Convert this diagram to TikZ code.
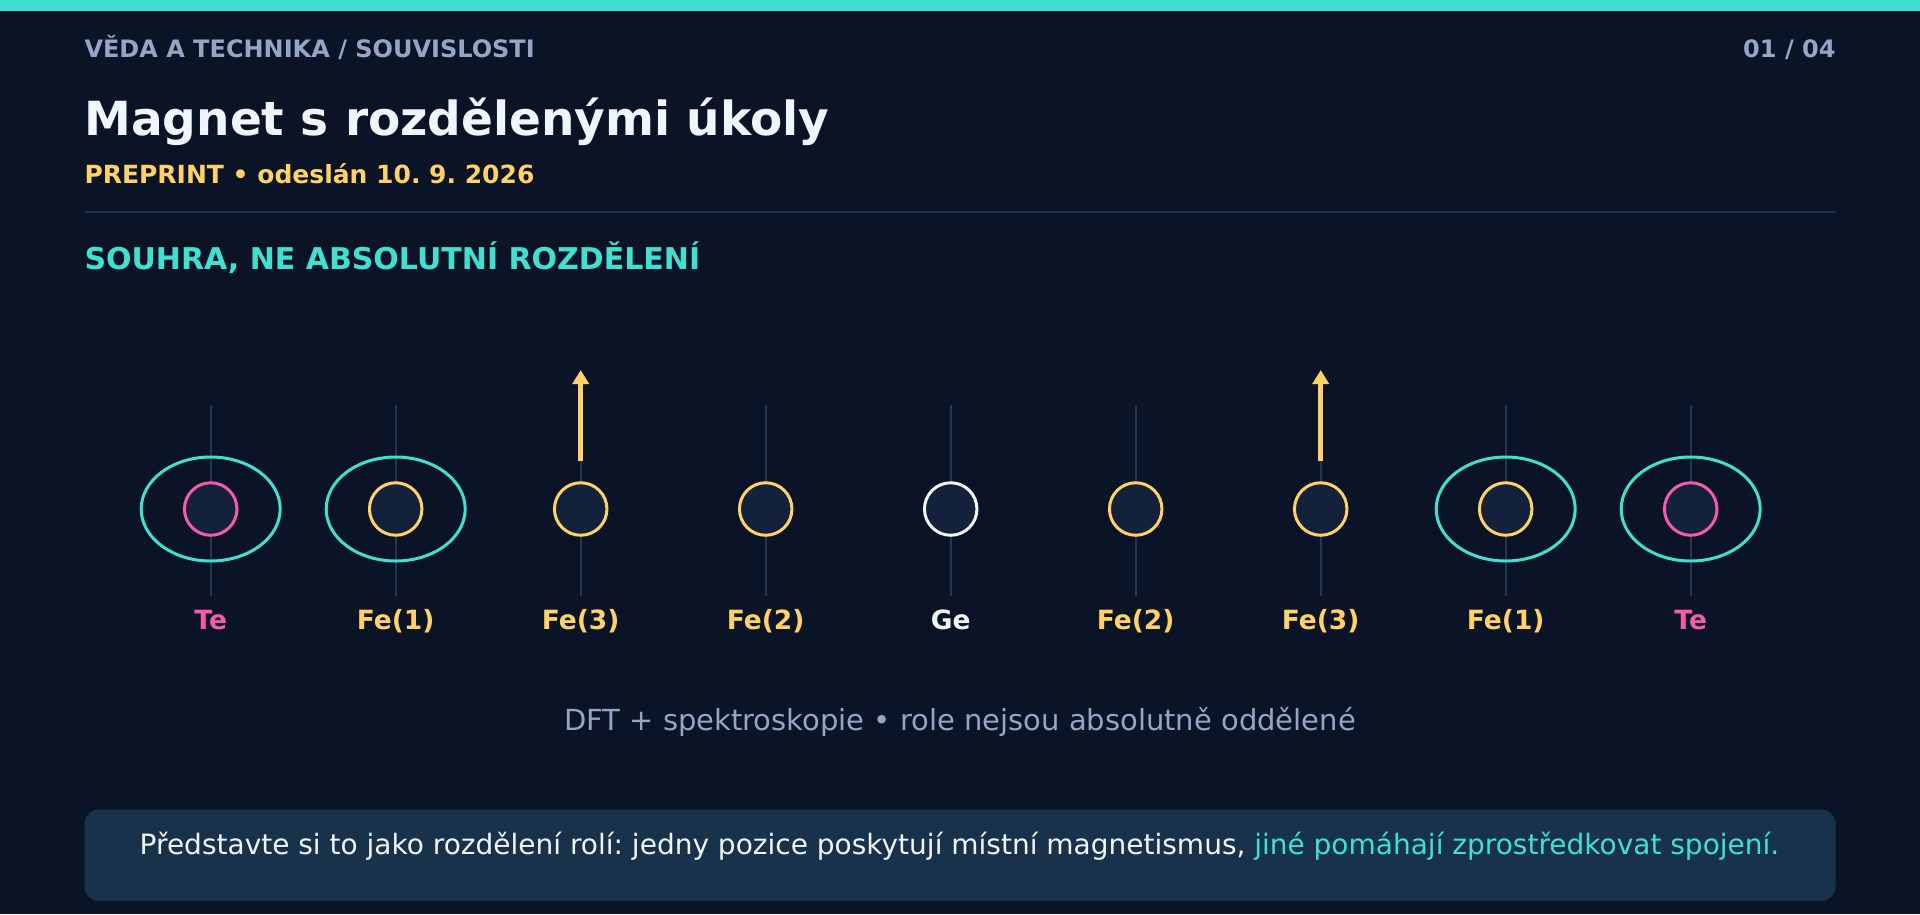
\documentclass[tikz,border=0pt]{standalone}
\usepackage{fontspec}
\setmainfont{DejaVu Sans}
\usetikzlibrary{arrows.meta,shapes.geometric}
\definecolor{bg}{HTML}{0B1426}
\definecolor{accent}{HTML}{40E0D0}
\definecolor{kicker}{HTML}{95A5C5}
\definecolor{titlec}{HTML}{F1F5FF}
\definecolor{yel}{HTML}{FFD166}
\definecolor{pinkc}{HTML}{F45BAA}
\definecolor{whitec}{HTML}{F1F5F9}
\definecolor{atomfill}{HTML}{13213A}
\definecolor{vlinec}{HTML}{27364F}
\definecolor{rulec}{HTML}{22314D}
\definecolor{boxc}{HTML}{18324C}
\frenchspacing
\tikzset{
  txt/.style={inner sep=0pt, outer sep=0pt},
  vline/.style={draw=vlinec, line width=2pt},
  atom/.style={circle, draw=#1, fill=atomfill, line width=3pt, minimum size=52.5pt, inner sep=0pt},
  orbit/.style={ellipse, draw=accent, line width=3pt, minimum width=139pt, minimum height=104pt, inner sep=0pt},
  spin/.style={draw=yel, line width=4.5pt, -{Triangle[width=16pt,length=14pt]}},
  lab/.style={txt, font=\bfseries\fontsize{26.5}{30}\selectfont, anchor=base},
}
\begin{document}
\begin{tikzpicture}[x=1pt,y=-1pt]
\useasboundingbox (0,0) rectangle (1920,914);
\fill[bg] (0,0) rectangle (1920,914);
\fill[accent] (0,0) rectangle (1920,10.5);

\node[txt, anchor=base west, text=kicker, font=\bfseries\fontsize{24}{28}\selectfont] (kick) at (84.5,57) {VĚDA A TECHNIKA / SOUVISLOSTI};
\node[txt, anchor=base east, text=kicker, font=\bfseries\fontsize{24}{28}\selectfont] (page) at (1835.5,57) {01 / 04};
\node[txt, anchor=base west, text=titlec, font=\bfseries\fontsize{47}{54}\selectfont] (title) at (84.5,135) {Magnet s rozdělenými úkoly};
\node[txt, anchor=base west, text=yel, font=\bfseries\fontsize{25}{28}\selectfont] (pre) at (84.5,183) {PREPRINT • odeslán 10. 9. 2026};
\draw[rulec, line width=2pt] (84.5,212) -- (1835.5,212);
\node[txt, anchor=base west, text=accent, font=\bfseries\fontsize{30}{36}\selectfont] (sec) at (84.5,269) {SOUHRA, NE ABSOLUTNÍ ROZDĚLENÍ};

\foreach \i/\lab/\col/\ell/\arr in {0/Te/pinkc/1/0, 1/Fe(1)/yel/1/0, 2/Fe(3)/yel/0/1, 3/Fe(2)/yel/0/0, 4/Ge/whitec/0/0, 5/Fe(2)/yel/0/0, 6/Fe(3)/yel/0/1, 7/Fe(1)/yel/1/0, 8/Te/pinkc/1/0}{
  \pgfmathsetmacro\xx{210.7+185*\i}
  \coordinate (top\i) at (\xx,405);
  \coordinate (bot\i) at (\xx,596);
  \draw[vline] (top\i) -- (bot\i);
  \ifnum\ell=1 \node[orbit] (orb\i) at (\xx,509) {}; \fi
  \node[atom=\col] (atom\i) at (\xx,509) {};
  \ifnum\arr=1
    \coordinate (as\i) at (\xx,461);
    \coordinate (ae\i) at (\xx,370);
    \draw[spin] (as\i) -- (ae\i);
  \fi
  \node[lab, text=\col] (lab\i) at (\xx,629) {\lab};
}

\node[txt, anchor=base, text=kicker, font=\fontsize{29}{34}\selectfont] (dft) at (960,730) {DFT + spektroskopie • role nejsou absolutně oddělené};

\fill[boxc, rounded corners=14pt] (84.5,809.5) rectangle (1835.5,901);
\node[txt, anchor=base, text=whitec, font=\fontsize{28}{34}\selectfont] (note) at (959.5,854) {Představte si to jako rozdělení rolí: jedny pozice poskytují místní magnetismus, \textcolor{accent}{jiné pomáhají zprostředkovat spojení.}};
\end{tikzpicture}
\end{document}
